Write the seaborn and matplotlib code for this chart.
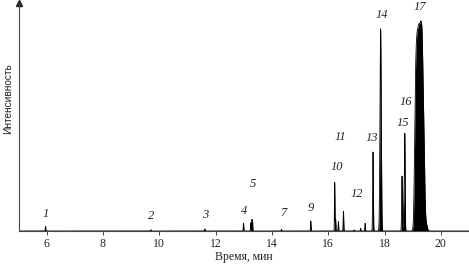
import numpy as np
import pandas as pd
import matplotlib
matplotlib.use("Agg")
import matplotlib.pyplot as plt
import seaborn as sns

# Peak table: retention time (min), relative height, peak width (sigma, min)
peak_times   = [5.96, 9.71, 11.62, 12.99, 13.25, 13.29, 13.31, 14.34, 15.38,
                16.23, 16.26, 16.36, 16.54, 16.92, 17.15, 17.31,
                17.59, 17.86, 18.62, 18.69, 18.72,
                19.10, 19.16, 19.22, 19.28, 19.34, 19.40, 19.47]
peak_heights = [0.022, 0.006, 0.010, 0.037, 0.040, 0.053, 0.050, 0.008, 0.048,
                0.232, 0.060, 0.045, 0.095, 0.006, 0.013, 0.037,
                0.378, 0.967, 0.263, 0.150, 0.446,
                0.60, 0.66, 0.68, 0.68, 0.72, 0.30, 0.04]
peak_sigmas  = [0.008, 0.008, 0.008, 0.008, 0.008, 0.008, 0.008, 0.008, 0.008,
                0.008, 0.010, 0.008, 0.010, 0.008, 0.008, 0.010,
                0.012, 0.022, 0.012, 0.015, 0.012,
                0.035, 0.035, 0.035, 0.035, 0.035, 0.030, 0.04]

label_texts = ["1", "2", "3", "4", "5", "7", "9", "10", "11", "12", "13", "14", "15", "16", "17"]
label_x = [5.98, 9.71, 11.62, 13.01, 13.33, 14.40, 15.39, 16.29, 16.43, 17.00, 17.53, 17.89, 18.66, 18.74, 19.27]
label_y = [0.082, 0.072, 0.077, 0.097, 0.227, 0.086, 0.109, 0.305, 0.449, 0.176, 0.447, 1.033, 0.515, 0.616, 1.070]

xticks = [6, 8, 10, 12, 14, 16, 18, 20]

# Build chromatogram from the peak table
t = np.arange(5.0, 21.0, 0.001)
signal = np.zeros_like(t)
for tc, h, s in zip(peak_times, peak_heights, peak_sigmas):
    signal += h * np.exp(-0.5 * ((t - tc) / s) ** 2)
df = pd.DataFrame({"t": t, "I": signal})

sns.set_style("white")
fig = plt.figure(figsize=(4.69, 2.69), dpi=100)
ax = fig.add_axes([18.5 / 469, 38 / 269, (469 - 18.5) / 469, 228 / 269])

sns.lineplot(data=df, x="t", y="I", ax=ax, color="black", lw=0.6)
ax.fill_between(df["t"], 0, df["I"], color="black", lw=0)

ax.set_xlim(5, 21.0)
ax.set_ylim(0, 1.091)
ax.set_xticks(xticks)
ax.set_xticklabels([str(v) for v in xticks], family="Liberation Serif", fontsize=8.5, color="#222222")
ax.set_yticks([])
ax.tick_params(axis="x", direction="out", length=3, width=0.7, color="#444444", pad=2, bottom=True)

for side in ["top", "right"]:
    ax.spines[side].set_visible(False)
for side in ["left", "bottom"]:
    ax.spines[side].set_color("#444444")
    ax.spines[side].set_linewidth(0.8)

# arrow on top of the y axis
ax.plot([0], [1.0], marker="^", markersize=4, color="#222222", transform=ax.transAxes, clip_on=False)

ax.set_xlabel("Время, мин", family="Liberation Serif", fontsize=8.5, color="#222222", labelpad=1)
ax.set_ylabel("Интенсивность", family="Liberation Sans", fontstyle="normal", fontsize=7.2,
              color="#222222", labelpad=5)
ax.yaxis.set_label_coords(-0.013, 0.58)

for txt, x, y in zip(label_texts, label_x, label_y):
    ax.text(x, y, txt, family="Liberation Serif", style="italic", fontsize=9,
            ha="center", va="center", color="#222222")

fig.savefig("out.png", dpi=100)
